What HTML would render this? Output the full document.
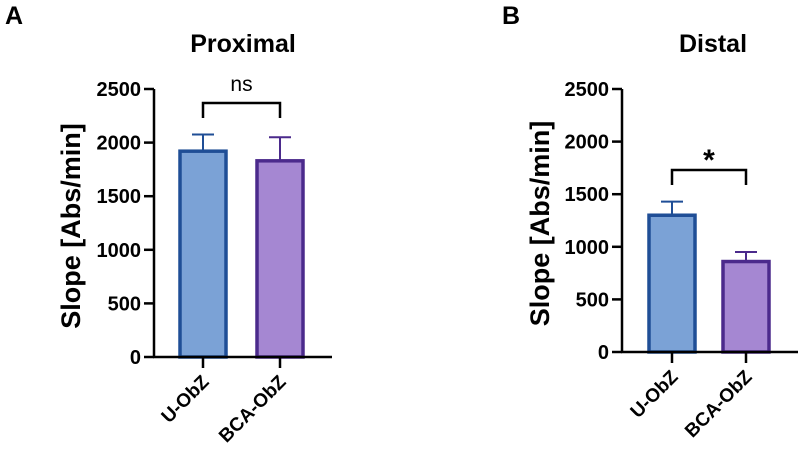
<!DOCTYPE html>
<html><head><meta charset="utf-8"><style>
body{margin:0;background:#fff;width:800px;height:455px;overflow:hidden}
svg{font-family:"Liberation Sans",Arial,sans-serif}
</style></head><body>
<svg id="s" width="800" height="455"></svg>
<script>
const categories=["U-ObZ","BCA-ObZ"];
const proxMeans=[1920,1830];
const proxErr=[2075,2050];
const distMeans=[1300,860];
const distErr=[1430,950];
const yTicks=[0,500,1000,1500,2000,2500];
const NS="http://www.w3.org/2000/svg";
const svg=document.getElementById('s');
function el(t,a,p){const e=document.createElementNS(NS,t);for(const k in a)e.setAttribute(k,a[k]);(p||svg).appendChild(e);return e;}
const fills=["#7ba2d6","#a587d2"],strokes=["#1f4e96","#4b2a8c"];
function panel(cfg){
  const g=el('g',{});
  
  
  const y=v=>cfg.y0-(cfg.y0-cfg.yTop)*v/2500;
  const letter=el('text',{x:cfg.lx,y:cfg.ly,'font-size':25,'font-weight':'bold'},g);letter.textContent=cfg.letter;
  
  const t=el('text',{x:cfg.tx,y:52,'font-size':25,'font-weight':'bold','text-anchor':'middle'},g);t.textContent=cfg.title;
  
  const yl=el('text',{x:0,y:0,'font-size':27,'font-weight':'bold','text-anchor':'middle',transform:`translate(${cfg.ylx},${(cfg.y0+cfg.yTop)/2+3}) rotate(-90)`},g);yl.textContent="Slope [Abs/min]";
  
  cfg.means.forEach((m,i)=>{
    const cx=cfg.cx[i];
    const er=el('path',{d:`M${cx},${y(m)} V${y(cfg.err[i])} M${cx-11},${y(cfg.err[i])} H${cx+11}`,stroke:strokes[i],'stroke-width':2,fill:'none'},g);
    
    const r=el('rect',{x:cx-23,y:y(m),width:46,height:cfg.y0-y(m),fill:fills[i],stroke:strokes[i],'stroke-width':3.5},g);
    
    el('line',{x1:cx,x2:cx,y1:cfg.y0,y2:cfg.y0+11,stroke:'#000','stroke-width':2.5},g);
    const xl=el('text',{x:0,y:0,'font-size':19,'font-weight':'bold','text-anchor':'end',transform:`translate(${cx+7},${cfg.y0+26}) rotate(-45)`},g);xl.textContent=categories[i];
    
  });
  el('line',{x1:cfg.ax,x2:cfg.ax,y1:cfg.yTop,y2:cfg.y0,stroke:'#000','stroke-width':2.5},g);
  el('line',{x1:cfg.ax-1,x2:cfg.axEnd,y1:cfg.y0,y2:cfg.y0,stroke:'#000','stroke-width':2.5},g);
  yTicks.forEach(v=>{
    el('line',{x1:cfg.ax-10,x2:cfg.ax,y1:y(v),y2:y(v),stroke:'#000','stroke-width':2.5},g);
    const tl=el('text',{x:cfg.ax-13,y:y(v)+7,'font-size':20,'font-weight':'bold','text-anchor':'end'},g);tl.textContent=v;
    
  });
  const br=el('path',{d:`M${cfg.cx[0]},${cfg.by+15} V${cfg.by} H${cfg.cx[1]} V${cfg.by+15}`,stroke:'#000','stroke-width':2.5,fill:'none'},g);
  
  const st=el('text',{x:(cfg.cx[0]+cfg.cx[1])/2,y:cfg.by+cfg.sigDy,'font-size':cfg.sigSize,'font-weight':cfg.sigW,'text-anchor':'middle'},g);st.textContent=cfg.sig;
  
}
panel({name:'panel-a-proximal',letter:'A',lx:5,ly:24,title:'Proximal',tx:243,ylx:80,ax:154,axEnd:332,yTop:89,y0:357,cx:[203,280],means:proxMeans,err:proxErr,by:103,sig:'ns',sigDy:-12,sigSize:21,sigW:'normal'});
panel({name:'panel-b-distal',letter:'B',lx:502,ly:24,title:'Distal',tx:713,ylx:549,ax:622,axEnd:798,yTop:89,y0:352,cx:[672,746],means:distMeans,err:distErr,by:170,sig:'*',sigDy:0,sigSize:30,sigW:'bold'});
</script>
</body></html>
